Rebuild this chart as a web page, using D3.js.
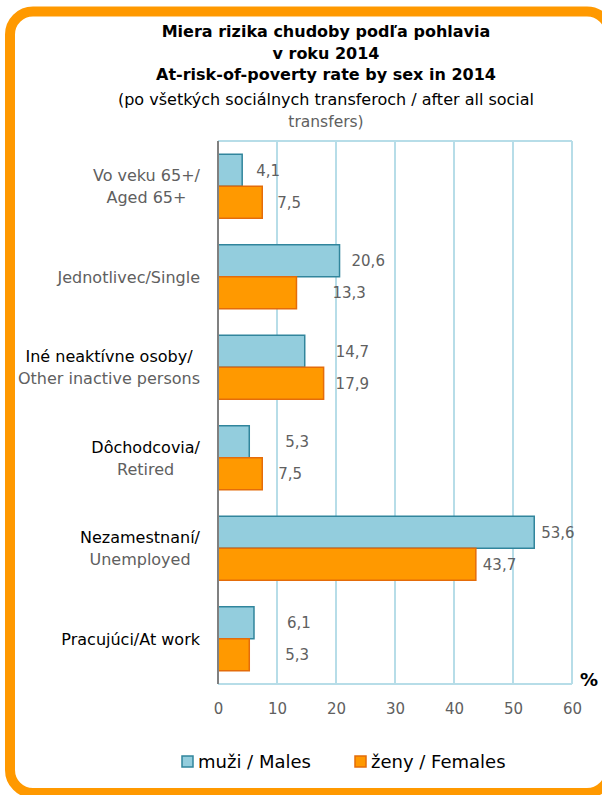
<!DOCTYPE html>
<html>
<head>
<meta charset="utf-8">
<script src="https://cdn.jsdelivr.net/npm/d3@7"></script>
<style>
  body { margin: 0; background: #fff; }
  svg { display: block; }
</style>
</head>
<body>
<script>
// data
const categories = ["65+", "single", "inactive", "retired", "unemployed", "atwork"];
const categoryLines = [
    ["Vo veku 65+/", "Aged 65+"],
    ["Jednotlivec/Single"],
    ["Iné neaktívne osoby/", "Other inactive persons"],
    ["Dôchodcovia/", "Retired"],
    ["Nezamestnaní/", "Unemployed"],
    ["Pracujúci/At work"]
];
const males = [4.1, 20.6, 14.7, 5.3, 53.6, 6.1];
const females = [7.5, 13.3, 17.9, 7.5, 43.7, 5.3];
const xTicks = [0, 10, 20, 30, 40, 50, 60];
const seriesNames = ["muži / Males", "ženy / Females"];
const titleLines = [
    "Miera rizika chudoby podľa pohlavia",
    "v roku 2014",
    "At-risk-of-poverty rate by sex in 2014",
    "(po všetkých sociálnych transferoch / after all social",
    "transfers)"
];

// layout tweaks (the labels in the original were dragged by hand)
const maleNudge = [14, 12, 31, 36, 7, 33];
const femaleNudge = [15, 36, 12, 16, 7, 36];
const grayLead = new Set([0, 1]);

const width = 602, height = 795;
const plot = { left: 218, right: 572, top: 141, bottom: 684 };
const font = "'DejaVu Sans', Verdana, sans-serif";
const dark = "#000", gray = "#606060";
const maleFill = "#93CDDD", maleStroke = "#31859C";
const femFill = "#FF9900", femStroke = "#E46C0A";

const svg = d3.select("body").append("svg")
    .attr("width", width)
    .attr("height", height)
    .style("font-family", font);

// orange frame
svg.append("rect")
    .attr("x", 10).attr("y", 11.5)
    .attr("width", 600).attr("height", 781.5)
    .attr("rx", 23)
    .attr("fill", "#fff")
    .attr("stroke", "#FF9900")
    .attr("stroke-width", 10);

// title
const titleY = [31, 53, 74, 99, 121];
svg.append("g")
    .attr("text-anchor", "middle")
    .selectAll("text")
    .data(titleLines)
    .join("text")
    .attr("x", 326)
    .attr("y", (d, i) => titleY[i])
    .attr("dy", "0.36em")
    .attr("font-size", (d, i) => i < 4 ? 16 : 15.5)
    .attr("font-weight", (d, i) => i < 3 ? "bold" : "normal")
    .attr("fill", (d, i) => i == 4 ? gray : dark)
    .text(d => d);

const x = d3.scaleLinear().domain([0, 60]).range([plot.left, plot.right]);
const y0 = d3.scaleBand().domain(categories).range([plot.top, plot.bottom]);
const y1 = d3.scaleBand().domain(["m", "f"]).range([0, y0.bandwidth()]).paddingOuter(0.414);

// grid
const grid = svg.append("g").attr("stroke", "#B7DDE8").attr("stroke-width", 2);
grid.selectAll("line.v")
    .data(xTicks.slice(1))
    .join("line")
    .attr("class", "v")
    .attr("x1", d => x(d)).attr("x2", d => x(d))
    .attr("y1", plot.top).attr("y2", plot.bottom);
grid.append("line")
    .attr("x1", plot.left).attr("x2", plot.right)
    .attr("y1", plot.top).attr("y2", plot.top);
grid.append("line")
    .attr("x1", plot.left).attr("x2", plot.right)
    .attr("y1", plot.bottom).attr("y2", plot.bottom);

// x axis labels
const xAxis = d3.axisBottom(x).tickValues(xTicks).tickSize(0).tickPadding(0).tickFormat(d3.format("d"));
svg.append("g")
    .attr("transform", `translate(0,${plot.bottom + 19})`)
    .call(xAxis)
    .call(g => g.select(".domain").remove())
    .selectAll("text")
    .attr("font-family", font)
    .attr("font-size", 15)
    .attr("fill", gray);

svg.append("text")
    .attr("x", 589).attr("y", 680)
    .attr("dy", "0.36em")
    .attr("text-anchor", "middle")
    .attr("font-size", 18)
    .attr("font-weight", "bold")
    .text("%");

// bars
const rows = categories.map((c, i) => ({ c, i, m: males[i], f: females[i] }));
const group = svg.append("g")
    .selectAll("g")
    .data(rows)
    .join("g")
    .attr("transform", d => `translate(0,${y0(d.c)})`);

group.append("rect")
    .attr("x", x(0))
    .attr("y", y1("m"))
    .attr("width", d => x(d.m) - x(0))
    .attr("height", y1.bandwidth())
    .attr("fill", maleFill)
    .attr("stroke", maleStroke)
    .attr("stroke-width", 1.5);

group.append("rect")
    .attr("x", x(0))
    .attr("y", y1("f"))
    .attr("width", d => x(d.f) - x(0))
    .attr("height", y1.bandwidth())
    .attr("fill", femFill)
    .attr("stroke", femStroke)
    .attr("stroke-width", 1.5);

const fmt = v => d3.format(".1f")(v).replace(".", ",");

group.append("text")
    .attr("x", d => x(d.m) + maleNudge[d.i])
    .attr("y", y1("m") + y1.bandwidth() / 2)
    .attr("dy", "0.36em")
    .attr("font-size", 15)
    .attr("fill", gray)
    .text(d => fmt(d.m));

group.append("text")
    .attr("x", d => x(d.f) + femaleNudge[d.i])
    .attr("y", y1("f") + y1.bandwidth() / 2)
    .attr("dy", "0.36em")
    .attr("font-size", 15)
    .attr("fill", gray)
    .text(d => fmt(d.f));

// y axis line
svg.append("line")
    .attr("x1", plot.left).attr("x2", plot.left)
    .attr("y1", plot.top).attr("y2", plot.bottom)
    .attr("stroke", "#808080")
    .attr("stroke-width", 2);

// category labels, each block centred, longest line ending at x=200
categories.forEach((c, i) => {
    const lines = categoryLines[i];
    const cy = y0(c) + y0.bandwidth() / 2;
    const g = svg.append("g").attr("text-anchor", "middle");
    const texts = g.selectAll("text")
        .data(lines)
        .join("text")
        .attr("y", (d, j) => cy + (lines.length == 1 ? 0 : (j == 0 ? -11 : 11)))
        .attr("dy", "0.36em")
        .attr("font-size", 16)
        .attr("fill", (d, j) => (j == 0 && !grayLead.has(i)) ? dark : gray)
        .text(d => d);
    let maxW = 0;
    texts.each(function () { maxW = Math.max(maxW, this.getComputedTextLength()); });
    texts.attr("x", 200 - maxW / 2);
});

// legend
const legend = svg.append("g")
    .selectAll("g")
    .data(seriesNames)
    .join("g")
    .attr("transform", (d, i) => `translate(${[182, 355][i]},756)`);
legend.append("rect")
    .attr("width", 11).attr("height", 11)
    .attr("fill", (d, i) => i ? femFill : maleFill)
    .attr("stroke", (d, i) => i ? femStroke : maleStroke)
    .attr("stroke-width", 1.5);
legend.append("text")
    .attr("x", 16).attr("y", 6)
    .attr("dy", "0.36em")
    .attr("font-size", 18)
    .attr("fill", dark)
    .text(d => d);
</script>
</body>
</html>
